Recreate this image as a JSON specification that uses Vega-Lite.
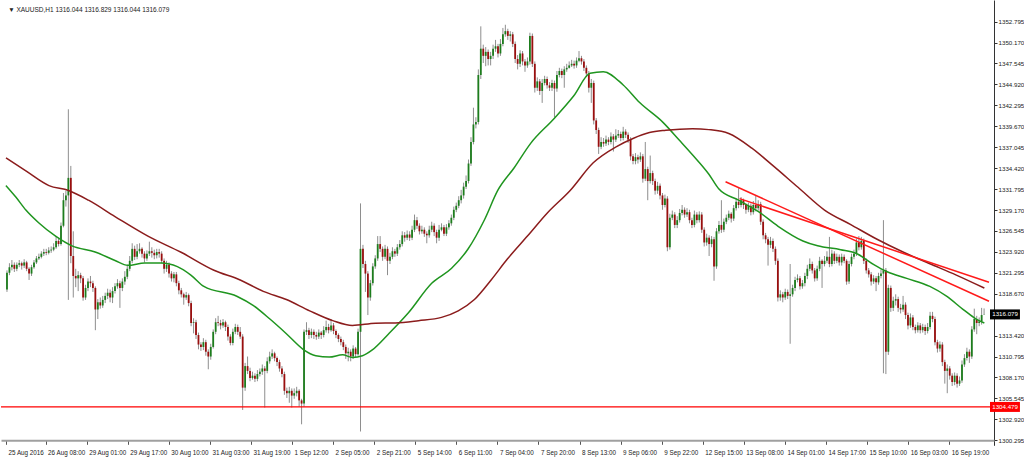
{
"$schema": "https://vega.github.io/schema/vega-lite/v6.json",
"width": 1024, "height": 460,
"autosize": {"type": "fit", "contains": "padding"},
"padding": {"left": 0, "top": 0, "right": 0, "bottom": 3.7},
"background": "white",
"config": {
"view": {"stroke": null},
"font": "Liberation Sans",
"axis": {"labelOverlap": false, "labelFlush": false, "labelBound": false, "grid": false, "labelFont": "Liberation Sans", "labelColor": "#222", "tickCount": 40},
"axisX": {"labelAlign": "left", "labelOffset": 2, "labelFontSize": 6.3, "labelPadding": 5, "tickSize": 4, "tickColor": "#555", "domainColor": "#a0a0a0", "domainWidth": 2},
"axisY": {"labelFontSize": 6.2, "labelPadding": 1, "tickSize": 3, "tickColor": "#333", "domainColor": "#333", "domainWidth": 1}
},
"datasets": {
"candles": [
{"i":0,"o":1319.2,"h":1321.6,"l":1318.9,"c":1321.3},{"i":1,"o":1321.3,"h":1322.5,"l":1321.0,"c":1322.0},{"i":2,"o":1322.0,"h":1322.9,"l":1321.6,"c":1322.3},{"i":3,"o":1322.3,"h":1322.6,"l":1321.4,"c":1321.8},{"i":4,"o":1321.8,"h":1322.6,"l":1321.5,"c":1322.3},{"i":5,"o":1322.3,"h":1322.9,"l":1322.0,"c":1322.5},{"i":6,"o":1322.5,"h":1322.7,"l":1321.7,"c":1322.2},{"i":7,"o":1322.2,"h":1323.0,"l":1321.9,"c":1322.6},{"i":8,"o":1322.6,"h":1322.8,"l":1321.5,"c":1321.8},{"i":9,"o":1321.8,"h":1322.0,"l":1320.4,"c":1321.2},
{"i":10,"o":1321.2,"h":1322.3,"l":1320.9,"c":1322.0},{"i":11,"o":1322.0,"h":1322.9,"l":1321.8,"c":1322.6},{"i":12,"o":1322.6,"h":1323.4,"l":1322.4,"c":1323.1},{"i":13,"o":1323.1,"h":1323.7,"l":1322.9,"c":1323.3},{"i":14,"o":1323.3,"h":1324.0,"l":1323.1,"c":1323.7},{"i":15,"o":1323.7,"h":1324.3,"l":1323.4,"c":1323.9},{"i":16,"o":1323.9,"h":1324.3,"l":1323.5,"c":1323.8},{"i":17,"o":1323.8,"h":1324.5,"l":1323.6,"c":1324.1},{"i":18,"o":1324.1,"h":1324.6,"l":1323.8,"c":1324.2},{"i":19,"o":1324.2,"h":1325.0,"l":1324.0,"c":1324.5},
{"i":20,"o":1324.5,"h":1325.9,"l":1324.3,"c":1325.3},{"i":21,"o":1325.3,"h":1325.6,"l":1324.6,"c":1324.9},{"i":22,"o":1324.9,"h":1327.6,"l":1324.7,"c":1327.2},{"i":23,"o":1327.2,"h":1331.3,"l":1327.0,"c":1330.4},{"i":24,"o":1330.4,"h":1331.6,"l":1329.6,"c":1331.0},{"i":25,"o":1331.0,"h":1341.8,"l":1317.9,"c":1333.2},{"i":26,"o":1333.2,"h":1334.7,"l":1322.5,"c":1323.4},{"i":27,"o":1323.4,"h":1326.5,"l":1318.2,"c":1320.9},{"i":28,"o":1320.9,"h":1321.8,"l":1319.5,"c":1320.6},{"i":29,"o":1320.6,"h":1321.5,"l":1319.0,"c":1321.0},
{"i":30,"o":1321.0,"h":1321.3,"l":1320.0,"c":1320.6},{"i":31,"o":1320.6,"h":1320.9,"l":1317.8,"c":1318.2},{"i":32,"o":1318.2,"h":1319.8,"l":1317.9,"c":1319.4},{"i":33,"o":1319.4,"h":1320.6,"l":1319.0,"c":1320.2},{"i":34,"o":1320.2,"h":1320.9,"l":1319.5,"c":1320.0},{"i":35,"o":1320.0,"h":1320.3,"l":1318.9,"c":1319.4},{"i":36,"o":1319.4,"h":1319.6,"l":1314.1,"c":1316.7},{"i":37,"o":1316.7,"h":1318.0,"l":1315.5,"c":1317.6},{"i":38,"o":1317.6,"h":1318.2,"l":1316.8,"c":1317.2},{"i":39,"o":1317.2,"h":1318.4,"l":1316.9,"c":1317.9},
{"i":40,"o":1317.9,"h":1318.8,"l":1317.5,"c":1318.4},{"i":41,"o":1318.4,"h":1319.3,"l":1318.0,"c":1318.8},{"i":42,"o":1318.8,"h":1319.2,"l":1317.6,"c":1318.2},{"i":43,"o":1318.2,"h":1319.5,"l":1317.5,"c":1319.0},{"i":44,"o":1319.0,"h":1320.0,"l":1318.7,"c":1319.6},{"i":45,"o":1319.6,"h":1320.5,"l":1319.3,"c":1320.0},{"i":46,"o":1320.0,"h":1320.3,"l":1316.9,"c":1319.4},{"i":47,"o":1319.4,"h":1320.6,"l":1319.0,"c":1320.2},{"i":48,"o":1320.2,"h":1321.5,"l":1319.8,"c":1320.8},{"i":49,"o":1320.8,"h":1322.3,"l":1320.5,"c":1321.8},
{"i":50,"o":1321.8,"h":1323.4,"l":1321.5,"c":1322.8},{"i":51,"o":1322.8,"h":1325.0,"l":1322.5,"c":1324.3},{"i":52,"o":1324.3,"h":1324.7,"l":1322.9,"c":1323.3},{"i":53,"o":1323.3,"h":1324.9,"l":1323.0,"c":1324.0},{"i":54,"o":1324.0,"h":1325.0,"l":1323.7,"c":1324.3},{"i":55,"o":1324.3,"h":1324.5,"l":1323.2,"c":1323.7},{"i":56,"o":1323.7,"h":1324.0,"l":1322.6,"c":1323.1},{"i":57,"o":1323.1,"h":1324.1,"l":1322.8,"c":1323.7},{"i":58,"o":1323.7,"h":1325.2,"l":1323.4,"c":1324.0},{"i":59,"o":1324.0,"h":1324.5,"l":1323.2,"c":1323.8},
{"i":60,"o":1323.8,"h":1324.2,"l":1323.0,"c":1323.5},{"i":61,"o":1323.5,"h":1324.3,"l":1323.1,"c":1323.9},{"i":62,"o":1323.9,"h":1324.3,"l":1323.2,"c":1323.7},{"i":63,"o":1323.7,"h":1324.0,"l":1322.5,"c":1322.8},{"i":64,"o":1322.8,"h":1323.1,"l":1321.2,"c":1321.8},{"i":65,"o":1321.8,"h":1322.8,"l":1321.4,"c":1322.3},{"i":66,"o":1322.3,"h":1322.6,"l":1320.7,"c":1321.2},{"i":67,"o":1321.2,"h":1321.5,"l":1320.2,"c":1320.6},{"i":68,"o":1320.6,"h":1321.4,"l":1320.1,"c":1321.1},{"i":69,"o":1321.1,"h":1321.4,"l":1319.6,"c":1320.0},
{"i":70,"o":1320.0,"h":1320.3,"l":1318.6,"c":1319.1},{"i":71,"o":1319.1,"h":1319.4,"l":1318.2,"c":1318.6},{"i":72,"o":1318.6,"h":1318.8,"l":1317.3,"c":1318.2},{"i":73,"o":1318.2,"h":1318.9,"l":1317.9,"c":1318.5},{"i":74,"o":1318.5,"h":1318.7,"l":1317.1,"c":1317.5},{"i":75,"o":1317.5,"h":1317.8,"l":1314.6,"c":1315.0},{"i":76,"o":1315.0,"h":1315.6,"l":1313.7,"c":1315.1},{"i":77,"o":1315.1,"h":1315.4,"l":1313.0,"c":1313.5},{"i":78,"o":1313.5,"h":1313.8,"l":1311.7,"c":1312.3},{"i":79,"o":1312.3,"h":1312.6,"l":1311.5,"c":1312.0},
{"i":80,"o":1312.0,"h":1313.1,"l":1311.6,"c":1312.6},{"i":81,"o":1312.6,"h":1312.9,"l":1310.9,"c":1311.4},{"i":82,"o":1311.4,"h":1311.7,"l":1309.2,"c":1310.8},{"i":83,"o":1310.8,"h":1312.4,"l":1310.4,"c":1312.0},{"i":84,"o":1312.0,"h":1314.2,"l":1311.8,"c":1313.9},{"i":85,"o":1313.9,"h":1315.6,"l":1313.6,"c":1315.1},{"i":86,"o":1315.1,"h":1315.9,"l":1314.6,"c":1315.0},{"i":87,"o":1315.0,"h":1315.4,"l":1314.2,"c":1314.7},{"i":88,"o":1314.7,"h":1315.5,"l":1314.4,"c":1315.1},{"i":89,"o":1315.1,"h":1315.3,"l":1314.0,"c":1314.5},
{"i":90,"o":1314.5,"h":1314.8,"l":1312.8,"c":1313.3},{"i":91,"o":1313.3,"h":1313.6,"l":1312.2,"c":1312.5},{"i":92,"o":1312.5,"h":1314.3,"l":1312.2,"c":1313.9},{"i":93,"o":1313.9,"h":1314.9,"l":1313.6,"c":1314.5},{"i":94,"o":1314.5,"h":1314.8,"l":1313.5,"c":1313.9},{"i":95,"o":1313.9,"h":1314.5,"l":1313.0,"c":1313.3},{"i":96,"o":1313.3,"h":1313.6,"l":1304.1,"c":1306.9},{"i":97,"o":1306.9,"h":1310.0,"l":1306.5,"c":1309.6},{"i":98,"o":1309.6,"h":1310.8,"l":1308.6,"c":1309.0},{"i":99,"o":1309.0,"h":1309.4,"l":1307.7,"c":1308.1},
{"i":100,"o":1308.1,"h":1308.9,"l":1307.9,"c":1308.4},{"i":101,"o":1308.4,"h":1308.7,"l":1307.6,"c":1308.0},{"i":102,"o":1308.0,"h":1309.1,"l":1307.7,"c":1308.6},{"i":103,"o":1308.6,"h":1309.3,"l":1308.3,"c":1308.9},{"i":104,"o":1308.9,"h":1309.8,"l":1308.5,"c":1309.3},{"i":105,"o":1309.3,"h":1309.6,"l":1304.4,"c":1309.0},{"i":106,"o":1309.0,"h":1310.7,"l":1308.7,"c":1310.2},{"i":107,"o":1310.2,"h":1311.4,"l":1309.9,"c":1310.8},{"i":108,"o":1310.8,"h":1311.7,"l":1310.5,"c":1311.2},{"i":109,"o":1311.2,"h":1311.4,"l":1310.2,"c":1310.6},
{"i":110,"o":1310.6,"h":1310.8,"l":1309.6,"c":1310.1},{"i":111,"o":1310.1,"h":1310.4,"l":1308.9,"c":1309.3},{"i":112,"o":1309.3,"h":1309.6,"l":1308.2,"c":1308.6},{"i":113,"o":1308.6,"h":1308.9,"l":1306.0,"c":1306.5},{"i":114,"o":1306.5,"h":1306.9,"l":1305.6,"c":1306.2},{"i":115,"o":1306.2,"h":1307.0,"l":1305.0,"c":1306.5},{"i":116,"o":1306.5,"h":1306.8,"l":1304.4,"c":1305.9},{"i":117,"o":1305.9,"h":1306.8,"l":1305.5,"c":1306.2},{"i":118,"o":1306.2,"h":1307.0,"l":1305.8,"c":1306.5},{"i":119,"o":1306.5,"h":1306.7,"l":1304.5,"c":1305.3},
{"i":120,"o":1305.3,"h":1305.5,"l":1302.3,"c":1304.9},{"i":121,"o":1304.9,"h":1314.2,"l":1304.5,"c":1313.9},{"i":122,"o":1313.9,"h":1315.1,"l":1313.5,"c":1314.1},{"i":123,"o":1314.1,"h":1314.4,"l":1313.0,"c":1313.5},{"i":124,"o":1313.5,"h":1314.3,"l":1313.1,"c":1313.9},{"i":125,"o":1313.9,"h":1314.2,"l":1313.0,"c":1313.5},{"i":126,"o":1313.5,"h":1313.9,"l":1312.9,"c":1313.3},{"i":127,"o":1313.3,"h":1314.2,"l":1313.0,"c":1313.8},{"i":128,"o":1313.8,"h":1314.0,"l":1313.0,"c":1313.5},{"i":129,"o":1313.5,"h":1314.6,"l":1313.2,"c":1314.1},
{"i":130,"o":1314.1,"h":1315.3,"l":1313.8,"c":1314.5},{"i":131,"o":1314.5,"h":1314.9,"l":1313.7,"c":1314.1},{"i":132,"o":1314.1,"h":1315.5,"l":1313.9,"c":1314.7},{"i":133,"o":1314.7,"h":1315.0,"l":1313.6,"c":1314.0},{"i":134,"o":1314.0,"h":1314.2,"l":1313.1,"c":1313.5},{"i":135,"o":1313.5,"h":1313.7,"l":1312.6,"c":1313.0},{"i":136,"o":1313.0,"h":1313.3,"l":1312.2,"c":1312.6},{"i":137,"o":1312.6,"h":1312.9,"l":1311.6,"c":1312.0},{"i":138,"o":1312.0,"h":1312.3,"l":1310.5,"c":1311.2},{"i":139,"o":1311.2,"h":1311.9,"l":1310.2,"c":1311.4},
{"i":140,"o":1311.4,"h":1311.7,"l":1310.2,"c":1310.8},{"i":141,"o":1310.8,"h":1312.2,"l":1310.5,"c":1311.8},{"i":142,"o":1311.8,"h":1312.0,"l":1310.7,"c":1311.1},{"i":143,"o":1311.1,"h":1314.3,"l":1310.9,"c":1313.9},{"i":144,"o":1313.9,"h":1330.0,"l":1301.4,"c":1324.3},{"i":145,"o":1324.3,"h":1324.8,"l":1321.9,"c":1322.4},{"i":146,"o":1322.4,"h":1322.8,"l":1318.9,"c":1321.2},{"i":147,"o":1321.2,"h":1321.5,"l":1316.0,"c":1318.2},{"i":148,"o":1318.2,"h":1320.4,"l":1317.8,"c":1320.0},{"i":149,"o":1320.0,"h":1322.5,"l":1319.7,"c":1322.1},
{"i":150,"o":1322.1,"h":1323.5,"l":1321.8,"c":1323.1},{"i":151,"o":1323.1,"h":1325.9,"l":1322.8,"c":1324.9},{"i":152,"o":1324.9,"h":1325.9,"l":1323.9,"c":1324.3},{"i":153,"o":1324.3,"h":1324.6,"l":1322.8,"c":1323.3},{"i":154,"o":1323.3,"h":1324.8,"l":1323.0,"c":1324.3},{"i":155,"o":1324.3,"h":1324.6,"l":1321.0,"c":1322.8},{"i":156,"o":1322.8,"h":1323.8,"l":1322.4,"c":1323.3},{"i":157,"o":1323.3,"h":1324.5,"l":1323.0,"c":1324.0},{"i":158,"o":1324.0,"h":1324.3,"l":1323.3,"c":1323.7},{"i":159,"o":1323.7,"h":1324.9,"l":1323.4,"c":1324.5},
{"i":160,"o":1324.5,"h":1325.4,"l":1324.2,"c":1324.9},{"i":161,"o":1324.9,"h":1326.5,"l":1324.6,"c":1326.0},{"i":162,"o":1326.0,"h":1326.4,"l":1325.2,"c":1325.7},{"i":163,"o":1325.7,"h":1326.6,"l":1325.4,"c":1326.1},{"i":164,"o":1326.1,"h":1326.5,"l":1325.3,"c":1325.7},{"i":165,"o":1325.7,"h":1327.2,"l":1325.4,"c":1326.7},{"i":166,"o":1326.7,"h":1328.6,"l":1326.4,"c":1327.9},{"i":167,"o":1327.9,"h":1328.3,"l":1326.8,"c":1327.2},{"i":168,"o":1327.2,"h":1327.5,"l":1326.1,"c":1326.5},{"i":169,"o":1326.5,"h":1327.2,"l":1326.2,"c":1326.7},
{"i":170,"o":1326.7,"h":1327.0,"l":1325.8,"c":1326.2},{"i":171,"o":1326.2,"h":1326.5,"l":1325.0,"c":1326.0},{"i":172,"o":1326.0,"h":1327.2,"l":1325.7,"c":1326.7},{"i":173,"o":1326.7,"h":1327.7,"l":1326.4,"c":1327.2},{"i":174,"o":1327.2,"h":1327.5,"l":1325.9,"c":1326.4},{"i":175,"o":1326.4,"h":1326.7,"l":1325.0,"c":1325.7},{"i":176,"o":1325.7,"h":1327.3,"l":1325.3,"c":1326.7},{"i":177,"o":1326.7,"h":1327.5,"l":1326.5,"c":1327.0},{"i":178,"o":1327.0,"h":1327.3,"l":1325.9,"c":1326.2},{"i":179,"o":1326.2,"h":1327.4,"l":1325.9,"c":1327.0},
{"i":180,"o":1327.0,"h":1327.9,"l":1326.7,"c":1327.5},{"i":181,"o":1327.5,"h":1328.6,"l":1327.2,"c":1328.2},{"i":182,"o":1328.2,"h":1329.6,"l":1327.9,"c":1329.2},{"i":183,"o":1329.2,"h":1330.1,"l":1328.9,"c":1329.7},{"i":184,"o":1329.7,"h":1330.9,"l":1329.4,"c":1330.4},{"i":185,"o":1330.4,"h":1331.7,"l":1330.0,"c":1331.0},{"i":186,"o":1331.0,"h":1332.6,"l":1330.6,"c":1332.1},{"i":187,"o":1332.1,"h":1333.5,"l":1331.8,"c":1332.8},{"i":188,"o":1332.8,"h":1335.5,"l":1332.5,"c":1335.0},{"i":189,"o":1335.0,"h":1338.3,"l":1334.7,"c":1337.7},
{"i":190,"o":1337.7,"h":1342.0,"l":1337.4,"c":1339.9},{"i":191,"o":1339.9,"h":1340.8,"l":1339.4,"c":1340.2},{"i":192,"o":1340.2,"h":1346.8,"l":1339.9,"c":1346.1},{"i":193,"o":1346.1,"h":1352.2,"l":1345.6,"c":1349.4},{"i":194,"o":1349.4,"h":1349.9,"l":1347.6,"c":1348.5},{"i":195,"o":1348.5,"h":1349.6,"l":1347.2,"c":1349.0},{"i":196,"o":1349.0,"h":1349.3,"l":1347.3,"c":1348.1},{"i":197,"o":1348.1,"h":1349.0,"l":1347.3,"c":1348.5},{"i":198,"o":1348.5,"h":1349.9,"l":1348.1,"c":1349.4},{"i":199,"o":1349.4,"h":1350.5,"l":1349.0,"c":1349.7},
{"i":200,"o":1349.7,"h":1350.0,"l":1348.3,"c":1348.8},{"i":201,"o":1348.8,"h":1350.6,"l":1348.5,"c":1350.0},{"i":202,"o":1350.0,"h":1352.0,"l":1349.7,"c":1351.2},{"i":203,"o":1351.2,"h":1352.4,"l":1350.9,"c":1351.6},{"i":204,"o":1351.6,"h":1351.9,"l":1350.5,"c":1351.0},{"i":205,"o":1351.0,"h":1351.6,"l":1350.3,"c":1351.2},{"i":206,"o":1351.2,"h":1351.5,"l":1349.6,"c":1350.0},{"i":207,"o":1350.0,"h":1350.3,"l":1347.6,"c":1348.1},{"i":208,"o":1348.1,"h":1348.6,"l":1346.8,"c":1347.5},{"i":209,"o":1347.5,"h":1349.2,"l":1347.1,"c":1348.8},
{"i":210,"o":1348.8,"h":1349.1,"l":1347.3,"c":1347.8},{"i":211,"o":1347.8,"h":1348.1,"l":1346.5,"c":1347.3},{"i":212,"o":1347.3,"h":1348.3,"l":1347.0,"c":1347.8},{"i":213,"o":1347.8,"h":1351.4,"l":1347.4,"c":1351.0},{"i":214,"o":1351.0,"h":1351.3,"l":1347.1,"c":1347.5},{"i":215,"o":1347.5,"h":1347.8,"l":1343.9,"c":1344.5},{"i":216,"o":1344.5,"h":1345.8,"l":1344.1,"c":1345.3},{"i":217,"o":1345.3,"h":1345.6,"l":1343.6,"c":1344.1},{"i":218,"o":1344.1,"h":1345.6,"l":1342.6,"c":1345.1},{"i":219,"o":1345.1,"h":1346.0,"l":1344.8,"c":1345.6},
{"i":220,"o":1345.6,"h":1345.9,"l":1344.4,"c":1344.8},{"i":221,"o":1344.8,"h":1345.2,"l":1344.1,"c":1344.5},{"i":222,"o":1344.5,"h":1345.5,"l":1344.1,"c":1345.1},{"i":223,"o":1345.1,"h":1345.4,"l":1340.8,"c":1344.4},{"i":224,"o":1344.4,"h":1346.6,"l":1344.0,"c":1346.1},{"i":225,"o":1346.1,"h":1347.0,"l":1345.8,"c":1346.6},{"i":226,"o":1346.6,"h":1346.9,"l":1345.7,"c":1346.1},{"i":227,"o":1346.1,"h":1347.2,"l":1344.5,"c":1346.8},{"i":228,"o":1346.8,"h":1347.5,"l":1346.5,"c":1347.0},{"i":229,"o":1347.0,"h":1347.8,"l":1346.9,"c":1347.3},
{"i":230,"o":1347.3,"h":1348.0,"l":1347.1,"c":1347.5},{"i":231,"o":1347.5,"h":1347.9,"l":1346.9,"c":1347.3},{"i":232,"o":1347.3,"h":1348.3,"l":1347.0,"c":1347.9},{"i":233,"o":1347.9,"h":1349.1,"l":1347.7,"c":1348.2},{"i":234,"o":1348.2,"h":1348.5,"l":1347.4,"c":1347.8},{"i":235,"o":1347.8,"h":1348.1,"l":1346.6,"c":1347.0},{"i":236,"o":1347.0,"h":1347.3,"l":1345.9,"c":1346.3},{"i":237,"o":1346.3,"h":1346.6,"l":1343.9,"c":1344.5},{"i":238,"o":1344.5,"h":1345.6,"l":1342.6,"c":1345.1},{"i":239,"o":1345.1,"h":1345.4,"l":1339.9,"c":1340.4},
{"i":240,"o":1340.4,"h":1340.7,"l":1338.7,"c":1339.2},{"i":241,"o":1339.2,"h":1339.5,"l":1336.2,"c":1337.1},{"i":242,"o":1337.1,"h":1338.3,"l":1336.8,"c":1337.7},{"i":243,"o":1337.7,"h":1338.2,"l":1337.1,"c":1337.5},{"i":244,"o":1337.5,"h":1338.5,"l":1337.2,"c":1338.0},{"i":245,"o":1338.0,"h":1338.3,"l":1337.3,"c":1337.7},{"i":246,"o":1337.7,"h":1338.9,"l":1337.4,"c":1338.4},{"i":247,"o":1338.4,"h":1338.7,"l":1336.5,"c":1338.0},{"i":248,"o":1338.0,"h":1339.3,"l":1337.7,"c":1338.5},{"i":249,"o":1338.5,"h":1339.2,"l":1338.2,"c":1338.7},
{"i":250,"o":1338.7,"h":1339.0,"l":1337.8,"c":1338.2},{"i":251,"o":1338.2,"h":1339.6,"l":1337.9,"c":1339.0},{"i":252,"o":1339.0,"h":1339.3,"l":1338.2,"c":1338.6},{"i":253,"o":1338.6,"h":1338.9,"l":1337.6,"c":1338.0},{"i":254,"o":1338.0,"h":1338.3,"l":1335.4,"c":1335.9},{"i":255,"o":1335.9,"h":1336.2,"l":1334.9,"c":1335.3},{"i":256,"o":1335.3,"h":1336.3,"l":1334.9,"c":1335.8},{"i":257,"o":1335.8,"h":1336.1,"l":1335.0,"c":1335.5},{"i":258,"o":1335.5,"h":1336.4,"l":1335.2,"c":1335.9},{"i":259,"o":1335.9,"h":1336.2,"l":1332.6,"c":1333.1},
{"i":260,"o":1333.1,"h":1337.7,"l":1332.8,"c":1334.3},{"i":261,"o":1334.3,"h":1334.6,"l":1330.4,"c":1332.8},{"i":262,"o":1332.8,"h":1336.0,"l":1332.5,"c":1333.8},{"i":263,"o":1333.8,"h":1334.1,"l":1332.3,"c":1332.8},{"i":264,"o":1332.8,"h":1333.1,"l":1331.1,"c":1331.6},{"i":265,"o":1331.6,"h":1332.7,"l":1331.2,"c":1332.2},{"i":266,"o":1332.2,"h":1332.5,"l":1330.5,"c":1331.0},{"i":267,"o":1331.0,"h":1331.3,"l":1329.2,"c":1329.8},{"i":268,"o":1329.8,"h":1331.1,"l":1329.5,"c":1330.6},{"i":269,"o":1330.6,"h":1330.9,"l":1324.0,"c":1324.5},
{"i":270,"o":1324.5,"h":1328.7,"l":1324.2,"c":1328.2},{"i":271,"o":1328.2,"h":1329.1,"l":1327.9,"c":1328.6},{"i":272,"o":1328.6,"h":1328.9,"l":1326.9,"c":1327.3},{"i":273,"o":1327.3,"h":1328.4,"l":1326.9,"c":1327.9},{"i":274,"o":1327.9,"h":1329.3,"l":1327.6,"c":1328.8},{"i":275,"o":1328.8,"h":1329.8,"l":1328.5,"c":1329.2},{"i":276,"o":1329.2,"h":1329.5,"l":1328.2,"c":1328.6},{"i":277,"o":1328.6,"h":1329.4,"l":1328.3,"c":1328.9},{"i":278,"o":1328.9,"h":1329.2,"l":1327.5,"c":1327.9},{"i":279,"o":1327.9,"h":1328.2,"l":1326.9,"c":1327.3},
{"i":280,"o":1327.3,"h":1329.1,"l":1327.0,"c":1328.6},{"i":281,"o":1328.6,"h":1328.9,"l":1327.5,"c":1327.9},{"i":282,"o":1327.9,"h":1329.0,"l":1327.6,"c":1328.6},{"i":283,"o":1328.6,"h":1328.9,"l":1326.3,"c":1326.7},{"i":284,"o":1326.7,"h":1327.0,"l":1324.6,"c":1325.1},{"i":285,"o":1325.1,"h":1326.2,"l":1324.7,"c":1325.7},{"i":286,"o":1325.7,"h":1326.0,"l":1323.4,"c":1324.9},{"i":287,"o":1324.9,"h":1325.9,"l":1324.5,"c":1325.5},{"i":288,"o":1325.5,"h":1325.8,"l":1320.3,"c":1322.1},{"i":289,"o":1322.1,"h":1326.9,"l":1321.8,"c":1326.5},
{"i":290,"o":1326.5,"h":1327.8,"l":1326.2,"c":1327.3},{"i":291,"o":1327.3,"h":1330.4,"l":1326.3,"c":1326.7},{"i":292,"o":1326.7,"h":1328.1,"l":1326.4,"c":1327.7},{"i":293,"o":1327.7,"h":1328.6,"l":1327.4,"c":1328.2},{"i":294,"o":1328.2,"h":1329.1,"l":1327.9,"c":1328.7},{"i":295,"o":1328.7,"h":1328.9,"l":1327.6,"c":1328.1},{"i":296,"o":1328.1,"h":1329.8,"l":1327.8,"c":1329.4},{"i":297,"o":1329.4,"h":1330.6,"l":1329.1,"c":1330.2},{"i":298,"o":1330.2,"h":1331.9,"l":1329.4,"c":1329.8},{"i":299,"o":1329.8,"h":1330.8,"l":1329.5,"c":1330.4},
{"i":300,"o":1330.4,"h":1330.6,"l":1329.3,"c":1329.8},{"i":301,"o":1329.8,"h":1330.0,"l":1328.7,"c":1329.2},{"i":302,"o":1329.2,"h":1330.1,"l":1328.9,"c":1329.7},{"i":303,"o":1329.7,"h":1330.0,"l":1328.5,"c":1328.9},{"i":304,"o":1328.9,"h":1330.3,"l":1328.6,"c":1329.8},{"i":305,"o":1329.8,"h":1331.0,"l":1329.0,"c":1329.4},{"i":306,"o":1329.4,"h":1330.4,"l":1329.1,"c":1329.9},{"i":307,"o":1329.9,"h":1330.2,"l":1327.3,"c":1327.7},{"i":308,"o":1327.7,"h":1328.0,"l":1325.5,"c":1326.0},{"i":309,"o":1326.0,"h":1326.3,"l":1325.0,"c":1325.5},
{"i":310,"o":1325.5,"h":1325.8,"l":1322.2,"c":1324.8},{"i":311,"o":1324.8,"h":1325.8,"l":1324.4,"c":1325.3},{"i":312,"o":1325.3,"h":1325.6,"l":1323.9,"c":1324.3},{"i":313,"o":1324.3,"h":1324.6,"l":1322.3,"c":1322.8},{"i":314,"o":1322.8,"h":1323.1,"l":1317.7,"c":1318.2},{"i":315,"o":1318.2,"h":1319.1,"l":1317.8,"c":1318.6},{"i":316,"o":1318.6,"h":1318.9,"l":1317.6,"c":1318.2},{"i":317,"o":1318.2,"h":1319.3,"l":1317.9,"c":1318.9},{"i":318,"o":1318.9,"h":1319.2,"l":1318.0,"c":1318.4},{"i":319,"o":1318.4,"h":1322.4,"l":1312.4,"c":1318.6},
{"i":320,"o":1318.6,"h":1319.8,"l":1318.3,"c":1319.4},{"i":321,"o":1319.4,"h":1320.8,"l":1319.0,"c":1320.4},{"i":322,"o":1320.4,"h":1321.1,"l":1320.1,"c":1320.6},{"i":323,"o":1320.6,"h":1320.9,"l":1319.2,"c":1319.6},{"i":324,"o":1319.6,"h":1320.4,"l":1319.3,"c":1320.0},{"i":325,"o":1320.0,"h":1321.3,"l":1319.6,"c":1320.9},{"i":326,"o":1320.9,"h":1322.3,"l":1320.5,"c":1321.8},{"i":327,"o":1321.8,"h":1323.1,"l":1321.5,"c":1322.4},{"i":328,"o":1322.4,"h":1322.7,"l":1321.2,"c":1321.6},{"i":329,"o":1321.6,"h":1321.9,"l":1320.2,"c":1320.6},
{"i":330,"o":1320.6,"h":1322.2,"l":1320.3,"c":1321.8},{"i":331,"o":1321.8,"h":1323.3,"l":1321.5,"c":1322.8},{"i":332,"o":1322.8,"h":1323.0,"l":1319.4,"c":1322.4},{"i":333,"o":1322.4,"h":1323.4,"l":1322.1,"c":1322.8},{"i":334,"o":1322.8,"h":1324.0,"l":1322.5,"c":1323.3},{"i":335,"o":1323.3,"h":1325.8,"l":1322.0,"c":1322.4},{"i":336,"o":1322.4,"h":1324.2,"l":1322.1,"c":1323.7},{"i":337,"o":1323.7,"h":1324.0,"l":1322.4,"c":1322.8},{"i":338,"o":1322.8,"h":1323.7,"l":1322.5,"c":1323.3},{"i":339,"o":1323.3,"h":1323.6,"l":1322.2,"c":1322.6},
{"i":340,"o":1322.6,"h":1323.7,"l":1322.2,"c":1323.3},{"i":341,"o":1323.3,"h":1323.6,"l":1322.5,"c":1322.8},{"i":342,"o":1322.8,"h":1323.0,"l":1319.8,"c":1320.2},{"i":343,"o":1320.2,"h":1322.8,"l":1319.9,"c":1322.4},{"i":344,"o":1322.4,"h":1323.7,"l":1322.1,"c":1323.3},{"i":345,"o":1323.3,"h":1324.2,"l":1323.0,"c":1323.7},{"i":346,"o":1323.7,"h":1325.6,"l":1323.4,"c":1325.1},{"i":347,"o":1325.1,"h":1325.9,"l":1324.1,"c":1324.5},{"i":348,"o":1324.5,"h":1325.8,"l":1324.2,"c":1325.3},{"i":349,"o":1325.3,"h":1325.6,"l":1322.4,"c":1322.8},
{"i":350,"o":1322.8,"h":1323.1,"l":1321.2,"c":1321.6},{"i":351,"o":1321.6,"h":1321.9,"l":1320.7,"c":1321.1},{"i":352,"o":1321.1,"h":1321.4,"l":1319.7,"c":1320.2},{"i":353,"o":1320.2,"h":1321.0,"l":1319.9,"c":1320.6},{"i":354,"o":1320.6,"h":1320.9,"l":1319.0,"c":1320.1},{"i":355,"o":1320.1,"h":1321.3,"l":1319.8,"c":1320.9},{"i":356,"o":1320.9,"h":1321.7,"l":1320.6,"c":1321.2},{"i":357,"o":1321.2,"h":1327.9,"l":1308.7,"c":1321.6},{"i":358,"o":1321.6,"h":1321.9,"l":1308.6,"c":1311.4},{"i":359,"o":1311.4,"h":1319.8,"l":1311.0,"c":1319.4},
{"i":360,"o":1319.4,"h":1319.7,"l":1316.4,"c":1316.9},{"i":361,"o":1316.9,"h":1318.3,"l":1316.5,"c":1317.8},{"i":362,"o":1317.8,"h":1318.6,"l":1317.2,"c":1318.0},{"i":363,"o":1318.0,"h":1318.3,"l":1316.4,"c":1316.9},{"i":364,"o":1316.9,"h":1317.4,"l":1316.2,"c":1316.7},{"i":365,"o":1316.7,"h":1318.4,"l":1316.4,"c":1317.3},{"i":366,"o":1317.3,"h":1317.6,"l":1315.5,"c":1316.0},{"i":367,"o":1316.0,"h":1316.3,"l":1314.2,"c":1314.7},{"i":368,"o":1314.7,"h":1316.2,"l":1314.4,"c":1315.7},{"i":369,"o":1315.7,"h":1316.0,"l":1314.1,"c":1314.5},
{"i":370,"o":1314.5,"h":1314.8,"l":1313.7,"c":1314.1},{"i":371,"o":1314.1,"h":1315.1,"l":1313.8,"c":1314.7},{"i":372,"o":1314.7,"h":1315.0,"l":1313.7,"c":1314.1},{"i":373,"o":1314.1,"h":1314.9,"l":1313.8,"c":1314.5},{"i":374,"o":1314.5,"h":1314.8,"l":1313.5,"c":1314.0},{"i":375,"o":1314.0,"h":1315.0,"l":1313.7,"c":1314.5},{"i":376,"o":1314.5,"h":1316.4,"l":1314.2,"c":1315.9},{"i":377,"o":1315.9,"h":1316.4,"l":1315.1,"c":1315.5},{"i":378,"o":1315.5,"h":1315.8,"l":1312.2,"c":1312.6},{"i":379,"o":1312.6,"h":1312.9,"l":1311.3,"c":1311.8},
{"i":380,"o":1311.8,"h":1312.7,"l":1311.4,"c":1312.3},{"i":381,"o":1312.3,"h":1312.6,"l":1309.6,"c":1310.1},{"i":382,"o":1310.1,"h":1310.4,"l":1307.4,"c":1309.0},{"i":383,"o":1309.0,"h":1309.8,"l":1306.2,"c":1309.3},{"i":384,"o":1309.3,"h":1309.6,"l":1307.9,"c":1308.4},{"i":385,"o":1308.4,"h":1308.7,"l":1307.1,"c":1307.6},{"i":386,"o":1307.6,"h":1308.8,"l":1307.2,"c":1308.4},{"i":387,"o":1308.4,"h":1308.7,"l":1306.9,"c":1307.4},{"i":388,"o":1307.4,"h":1308.3,"l":1307.1,"c":1307.8},{"i":389,"o":1307.8,"h":1310.3,"l":1307.5,"c":1309.8},
{"i":390,"o":1309.8,"h":1311.1,"l":1309.5,"c":1310.6},{"i":391,"o":1310.6,"h":1311.9,"l":1310.3,"c":1311.4},{"i":392,"o":1311.4,"h":1311.7,"l":1310.0,"c":1310.8},{"i":393,"o":1310.8,"h":1314.6,"l":1310.5,"c":1314.2},{"i":394,"o":1314.2,"h":1316.8,"l":1313.9,"c":1315.5},{"i":395,"o":1315.5,"h":1315.9,"l":1313.6,"c":1315.0},{"i":396,"o":1315.0,"h":1315.7,"l":1314.6,"c":1315.2},{"i":397,"o":1315.2,"h":1316.9,"l":1314.8,"c":1316.0},{"i":398,"o":1316.044,"h":1316.829,"l":1316.044,"c":1316.079}
],
"ma": [
{"s":"fast","i":-0.4,"v":1332.23},{"s":"fast","i":3.6,"v":1330.8},{"s":"fast","i":7.7,"v":1329.17},{"s":"fast","i":12.9,"v":1327.58},{"s":"fast","i":19.8,"v":1325.9},{"s":"fast","i":26.5,"v":1324.68},{"s":"fast","i":35.9,"v":1323.91},{"s":"fast","i":44,"v":1322.84},{"s":"fast","i":49.2,"v":1322.23},{"s":"fast","i":56.1,"v":1322.53},{"s":"fast","i":62.8,"v":1322.53},{"s":"fast","i":69.4,"v":1322.07},{"s":"fast","i":74.9,"v":1321.01},{"s":"fast","i":80.2,"v":1319.59},{"s":"fast","i":93.6,"v":1318.36},{"s":"fast","i":100.4,"v":1317.18},{"s":"fast","i":107.1,"v":1315.5},{"s":"fast","i":113.8,"v":1313.66},{"s":"fast","i":120.6,"v":1311.71},{"s":"fast","i":125.8,"v":1310.9},{"s":"fast","i":131.3,"v":1310.73},{"s":"fast","i":136.7,"v":1311.02},{"s":"fast","i":140.7,"v":1310.69},{"s":"fast","i":144.8,"v":1310.9},{"s":"fast","i":148.8,"v":1311.63},{"s":"fast","i":155.5,"v":1313.66},{"s":"fast","i":163.6,"v":1316.32},{"s":"fast","i":173,"v":1319.99},{"s":"fast","i":181,"v":1321.83},{"s":"fast","i":187.8,"v":1324.28},{"s":"fast","i":194.5,"v":1327.95},{"s":"fast","i":199.9,"v":1331.62},{"s":"fast","i":206.6,"v":1334.47},{"s":"fast","i":213.3,"v":1337.53},{"s":"fast","i":222.7,"v":1340.59},{"s":"fast","i":230.8,"v":1343.46},{"s":"fast","i":237.5,"v":1346.31},{"s":"fast","i":242.9,"v":1346.52},{"s":"fast","i":250.9,"v":1344.88},{"s":"fast","i":257.7,"v":1342.64},{"s":"fast","i":267.1,"v":1340.19},{"s":"fast","i":273.8,"v":1337.95},{"s":"fast","i":279.2,"v":1336.11},{"s":"fast","i":285.9,"v":1333.66},{"s":"fast","i":289.9,"v":1331.83},{"s":"fast","i":298,"v":1330.4},{"s":"fast","i":306.1,"v":1328.96},{"s":"fast","i":314.1,"v":1327.13},{"s":"fast","i":324.2,"v":1325.29},{"s":"fast","i":330.2,"v":1324.68},{"s":"fast","i":339.6,"v":1324.19},{"s":"fast","i":346.4,"v":1323.66},{"s":"fast","i":353.1,"v":1322.32},{"s":"fast","i":358.5,"v":1321.43},{"s":"fast","i":366.5,"v":1320.6},{"s":"fast","i":375.9,"v":1319.59},{"s":"fast","i":382.7,"v":1318.37},{"s":"fast","i":389.4,"v":1316.72},{"s":"fast","i":394.8,"v":1315.5},{"s":"fast","i":398.1,"v":1315.01},
{"s":"slow","i":-0.4,"v":1335.7},{"s":"slow","i":7.7,"v":1334.07},{"s":"slow","i":17.1,"v":1332.23},{"s":"slow","i":25.1,"v":1331.62},{"s":"slow","i":33.2,"v":1330.4},{"s":"slow","i":44,"v":1328.35},{"s":"slow","i":57.4,"v":1325.9},{"s":"slow","i":70.9,"v":1323.87},{"s":"slow","i":84.3,"v":1321.62},{"s":"slow","i":95,"v":1320.39},{"s":"slow","i":104.4,"v":1318.97},{"s":"slow","i":113.8,"v":1317.95},{"s":"slow","i":123.3,"v":1316.53},{"s":"slow","i":132.7,"v":1315.3},{"s":"slow","i":140.7,"v":1314.69},{"s":"slow","i":150.1,"v":1314.97},{"s":"slow","i":158.2,"v":1315.01},{"s":"slow","i":167.6,"v":1315.3},{"s":"slow","i":177,"v":1315.71},{"s":"slow","i":183.8,"v":1316.53},{"s":"slow","i":190.4,"v":1317.95},{"s":"slow","i":197.2,"v":1320.4},{"s":"slow","i":203.9,"v":1323.05},{"s":"slow","i":212,"v":1325.9},{"s":"slow","i":220,"v":1328.77},{"s":"slow","i":229.4,"v":1331.62},{"s":"slow","i":238.8,"v":1335.09},{"s":"slow","i":248.3,"v":1337.13},{"s":"slow","i":255,"v":1338.14},{"s":"slow","i":261.7,"v":1338.88},{"s":"slow","i":268.4,"v":1339.17},{"s":"slow","i":279.2,"v":1339.37},{"s":"slow","i":285.9,"v":1339.25},{"s":"slow","i":294,"v":1338.76},{"s":"slow","i":303.4,"v":1336.92},{"s":"slow","i":311.4,"v":1334.89},{"s":"slow","i":322.2,"v":1332.02},{"s":"slow","i":333,"v":1329.17},{"s":"slow","i":343.7,"v":1327.34},{"s":"slow","i":354.4,"v":1325.5},{"s":"slow","i":365.2,"v":1323.87},{"s":"slow","i":375.9,"v":1322.44},{"s":"slow","i":386.7,"v":1321.01},{"s":"slow","i":398.1,"v":1319.38}
],
"trend": [
{"i":292.7,"p":1332.72,"i2":400,"p2":1317.73},
{"i":298.4,"p":1330.6,"i2":400,"p2":1320.11}
],
"tags": [
{"k":"current","p":1316.079,"t":"1316.079"},
{"k":"level","p":1304.479,"t":"1304.479"}
],
"head": [{"t":"▼ XAUUSD,H1  1316.044 1316.829 1316.044 1316.079"}]
},
"layer": [
{
"data": {"name": "candles"},
"mark": {"type": "rule", "color": "#8e8e8e", "strokeWidth": 1},
"encoding": {
"x": {"field": "i", "type": "quantitative", "title": null,
"scale": {"domain": [-0.4, 400], "nice": false, "zero": false},
"axis": {"values": [-0.4, 15.73, 32.46, 49.19, 65.92, 82.65, 99.38, 116.11, 132.84, 149.57, 166.3, 183.03, 199.76, 216.49, 233.22, 249.95, 266.68, 283.41, 300.14, 316.87, 333.6, 350.33, 367.06, 383.79],
"labelExpr": "datum.value < 0 ? '25 Aug 2016' : ['26 Aug 08:00','29 Aug 01:00','29 Aug 17:00','30 Aug 10:00','31 Aug 03:00','31 Aug 19:00','1 Sep 12:00','2 Sep 05:00','2 Sep 21:00','5 Sep 14:00','6 Sep 11:00','7 Sep 04:00','7 Sep 20:00','8 Sep 13:00','9 Sep 06:00','9 Sep 22:00','12 Sep 15:00','13 Sep 08:00','14 Sep 01:00','14 Sep 17:00','15 Sep 10:00','16 Sep 03:00','16 Sep 19:00'][round((datum.value - 15.73) / 16.73)]",
"offset": -5, "title": null, "labelOverlap": false, "tickCount": 40, "zindex": 1}},
"y": {"field": "l", "type": "quantitative", "title": null,
"scale": {"domain": [1300.295, 1354.876], "nice": false, "zero": false},
"axis": {"orient": "right", "values": [1300.295, 1302.92, 1305.545, 1308.17, 1310.795, 1313.42, 1318.67, 1321.295, 1323.92, 1326.545, 1329.17, 1331.795, 1334.42, 1337.045, 1339.67, 1342.295, 1344.92, 1347.545, 1350.17, 1352.795],
"labelExpr": "format(datum.value, '.3f')", "title": null, "labelOverlap": false, "tickCount": 40, "zindex": 0}},
"y2": {"field": "h"}
}
},
{
"data": {"name": "candles"},
"mark": {"type": "bar", "size": 1.8},
"encoding": {
"x": {"field": "i", "type": "quantitative", "title": null, "scale": {"domain": [-0.4, 400], "nice": false, "zero": false}},
"y": {"field": "o", "type": "quantitative", "title": null, "scale": {"domain": [1300.295, 1354.876], "nice": false, "zero": false}},
"y2": {"field": "c"},
"color": {"condition": {"test": "datum.c >= datum.o", "value": "#1d7d1d"}, "value": "#9a0f0f"}
}
},
{
"data": {"name": "ma"},
"mark": {"type": "line", "strokeWidth": 1.5, "interpolate": "monotone"},
"encoding": {
"x": {"field": "i", "type": "quantitative", "title": null, "scale": {"domain": [-0.4, 400], "nice": false, "zero": false}},
"y": {"field": "v", "type": "quantitative", "title": null, "scale": {"domain": [1300.295, 1354.876], "nice": false, "zero": false}},
"color": {"field": "s", "type": "nominal", "scale": {"domain": ["fast", "slow"], "range": ["#1f951f", "#8b1c1c"]}, "legend": null}
}
},
{
"data": {"name": "tags"},
"transform": [{"filter": "datum.k == 'level'"}],
"mark": {"type": "rule", "color": "#ff0000", "strokeWidth": 1.2},
"encoding": {
"y": {"field": "p", "type": "quantitative", "title": null, "scale": {"domain": [1300.295, 1354.876], "nice": false, "zero": false}}
}
},
{
"data": {"name": "trend"},
"mark": {"type": "rule", "color": "#ff1a1a", "strokeWidth": 1.5},
"encoding": {
"x": {"field": "i", "type": "quantitative", "title": null, "scale": {"domain": [-0.4, 400], "nice": false, "zero": false}},
"y": {"field": "p", "type": "quantitative", "title": null, "scale": {"domain": [1300.295, 1354.876], "nice": false, "zero": false}},
"x2": {"field": "i2"},
"y2": {"field": "p2"}
}
},
{
"data": {"name": "tags"},
"mark": {"type": "bar", "orient": "horizontal", "size": 10},
"encoding": {
"x": {"datum": 400.4, "type": "quantitative", "title": null, "scale": {"domain": [-0.4, 400], "nice": false, "zero": false}},
"x2": {"datum": 412.6},
"y": {"field": "p", "type": "quantitative", "title": null, "scale": {"domain": [1300.295, 1354.876], "nice": false, "zero": false}},
"color": {"condition": {"test": "datum.k == 'level'", "value": "#ff0000"}, "value": "#000000"}
}
},
{
"data": {"name": "tags"},
"mark": {"type": "text", "color": "white", "fontSize": 6.2, "align": "left", "baseline": "middle", "font": "Liberation Sans"},
"encoding": {
"x": {"datum": 401.3, "type": "quantitative", "title": null, "scale": {"domain": [-0.4, 400], "nice": false, "zero": false}},
"y": {"field": "p", "type": "quantitative", "title": null, "scale": {"domain": [1300.295, 1354.876], "nice": false, "zero": false}},
"text": {"field": "t"}
}
},
{
"data": {"name": "head"},
"mark": {"type": "text", "color": "#222", "fontSize": 6.5, "align": "left", "baseline": "middle", "font": "Liberation Sans"},
"encoding": {
"x": {"datum": 0.5, "type": "quantitative", "title": null, "scale": {"domain": [-0.4, 400], "nice": false, "zero": false}},
"y": {"datum": 1354.25, "type": "quantitative", "title": null, "scale": {"domain": [1300.295, 1354.876], "nice": false, "zero": false}},
"text": {"field": "t"}
}
}
]
}
